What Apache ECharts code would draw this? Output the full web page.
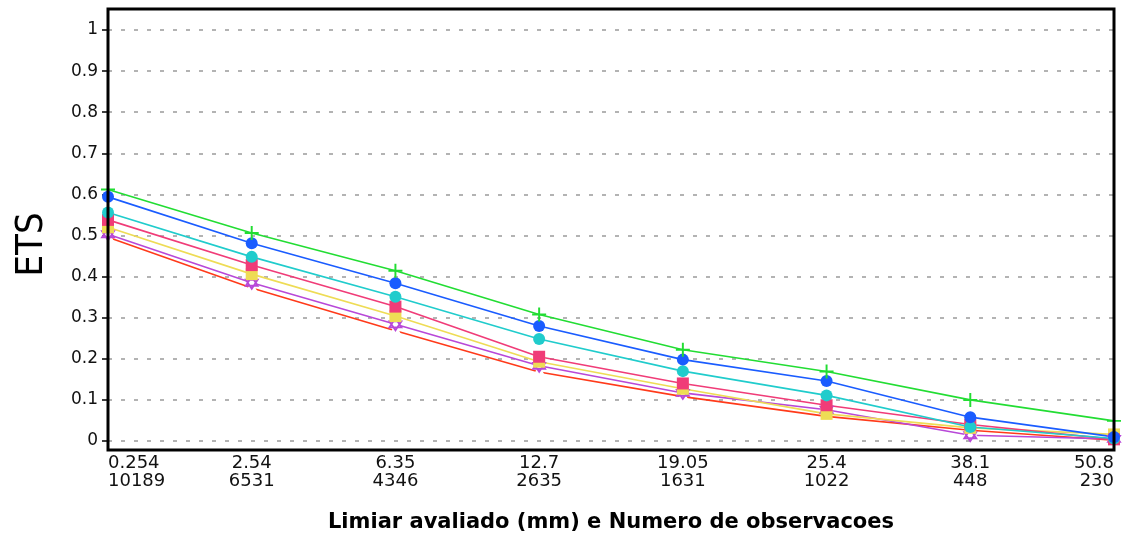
<!DOCTYPE html>
<html>
<head>
<meta charset="utf-8">
<script src="https://cdn.jsdelivr.net/npm/echarts@6/dist/echarts.min.js"></script>
<style>
	html, body { margin: 0; padding: 0; background: #fff; }
	#chartDiv { width: 1137px; height: 538px; }
</style>
</head>
<body>
<div id="chartDiv"></div>
<script>
// limiares (mm) e numero de observacoes
var thresholds = ['0.254', '2.54', '6.35', '12.7', '19.05', '25.4', '38.1', '50.8'];
var counts = ['10189', '6531', '4346', '2635', '1631', '1022', '448', '230'];
var yTicks = [0, 0.1, 0.2, 0.3, 0.4, 0.5, 0.6, 0.7, 0.8, 0.9, 1];

var s_green = [0.612, 0.506, 0.414, 0.308, 0.222, 0.169, 0.100, 0.049];
var s_blue = [0.594, 0.481, 0.384, 0.280, 0.198, 0.146, 0.058, 0.010];
var s_cyan = [0.556, 0.448, 0.351, 0.248, 0.170, 0.111, 0.034, 0.006];
var s_pink = [0.538, 0.428, 0.327, 0.205, 0.140, 0.087, 0.040, 0.004];
var s_yellow = [0.520, 0.406, 0.304, 0.193, 0.127, 0.066, 0.032, 0.016];
var s_purple = [0.503, 0.385, 0.284, 0.183, 0.117, 0.076, 0.014, 0.005];
var s_red = [0.496, 0.372, 0.268, 0.168, 0.108, 0.060, 0.026, 0.002];

var categories = thresholds.map(function (t, i) {
	return t + '\n' + counts[i];
});

var plusPath = 'path://M4.3,0H5.7V4.3H10V5.7H5.7V10H4.3V5.7H0V4.3H4.3Z';
var starPath = 'path://M5,0L9.33,7.5H0.67Z M5,10L0.67,2.5H9.33Z';

function makeSeries(name, data, color, symbol, size, fill) {
	return {
		name: name,
		type: 'line',
		data: data,
		symbol: symbol,
		symbolSize: size,
		showAllSymbol: true,
		clip: false,
		animation: false,
		lineStyle: {
			color: color,
			width: 1.6
		},
		itemStyle: {
			color: fill || color,
			borderColor: color,
			borderWidth: fill ? 1.8 : 0
		}
	};
}

var chart = echarts.init(document.getElementById('chartDiv'));

var option = {
	animation: false,
	grid: [
		{
			left: 108,
			right: 23,
			top: 30,
			bottom: 96
		},
		{
			left: 108,
			right: 23,
			top: 9,
			bottom: 88,
			show: true,
			borderColor: '#000',
			borderWidth: 3,
			backgroundColor: 'transparent',
			z: 5
		}
	],
	xAxis: {
		type: 'category',
		gridIndex: 0,
		data: categories,
		boundaryGap: false,
		axisLine: { show: false },
		axisTick: { show: false },
		splitLine: { show: false },
		axisLabel: {
			color: '#111',
			fontSize: 18,
			lineHeight: 18,
			margin: 13,
			fontFamily: 'DejaVu Sans',
			alignMinLabel: 'left',
			alignMaxLabel: 'right',
			interval: 0
		},
		name: 'Limiar avaliado (mm) e Numero de observacoes',
		nameLocation: 'middle',
		nameGap: 71,
		nameTextStyle: {
			color: '#000',
			fontSize: 21,
			fontWeight: 'bold',
			fontFamily: 'DejaVu Sans'
		}
	},
	yAxis: {
		type: 'value',
		gridIndex: 0,
		min: yTicks[0],
		max: yTicks[yTicks.length - 1],
		interval: 0.1,
		axisLine: { show: false },
		axisTick: {
			show: true,
			length: 6,
			lineStyle: { color: '#000', width: 1.5 }
		},
		axisLabel: {
			color: '#111',
			fontSize: 17,
			margin: 10,
			fontFamily: 'DejaVu Sans',
			formatter: function (v) {
				return String(Math.round(v * 10) / 10);
			}
		},
		splitLine: {
			show: true,
			lineStyle: {
				type: [4, 9],
				color: '#9a9a9a',
				width: 1.5
			}
		},
		name: 'ETS',
		nameLocation: 'middle',
		nameGap: 57,
		nameTextStyle: {
			color: '#000',
			fontSize: 38,
			fontFamily: "'DejaVu Sans Condensed', 'DejaVu Sans'",
			padding: [0, 0, 0, -18]
		}
	},
	series: [
		makeSeries('red', s_red, '#ff3a1a', 'emptyTriangle', 11, '#fff'),
		makeSeries('purple', s_purple, '#b848d8', starPath, 12, '#fff'),
		makeSeries('yellow', s_yellow, '#eedc55', 'rect', 12),
		makeSeries('pink', s_pink, '#f03c78', 'rect', 12),
		makeSeries('cyan', s_cyan, '#20cccc', 'circle', 12),
		makeSeries('blue', s_blue, '#1a5cff', 'circle', 12),
		makeSeries('green', s_green, '#22dd33', plusPath, 14)
	]
};

if (option && typeof option === "object") {
	chart.setOption(option, true);
}
</script>
</body>
</html>
